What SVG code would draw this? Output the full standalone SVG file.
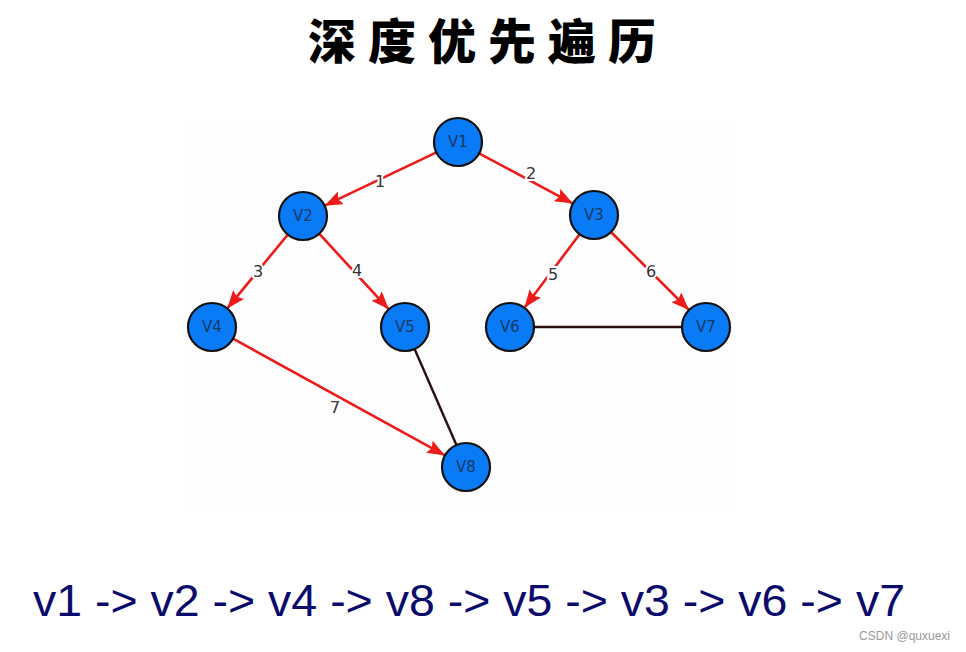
<svg xmlns="http://www.w3.org/2000/svg" width="966" height="652" viewBox="0 0 966 652">
<style>
.node circle{fill:#0a7bf7;stroke:#111;stroke-width:2.2}
.node text{font-family:"DejaVu Sans","Liberation Sans",sans-serif;font-size:15px;fill:#173a63;text-anchor:middle;dominant-baseline:central}
.red{stroke:#ee1b1b;stroke-width:2.6;fill:none;marker-end:url(#ah)}
.blk{stroke:#2a0f0f;stroke-width:2.4;fill:none}
.lbl{font-family:"DejaVu Sans","Liberation Sans",sans-serif;font-size:16px;fill:#333;text-anchor:middle;dominant-baseline:central;stroke:#fdfdfd;stroke-width:4;paint-order:stroke}
</style>
<defs>
<marker id="ah" viewBox="0 0 18 14" refX="18" refY="7" markerWidth="18" markerHeight="14" markerUnits="userSpaceOnUse" orient="auto">
<path d="M0,0 L18,7 L0,14 L3,7 Z" fill="#ee1b1b"/>
</marker>
</defs>
<rect width="966" height="652" fill="#fff"/>
<rect x="183" y="120" width="552" height="392" fill="#fdfdfd"/>
<text x="488" y="59" font-family="'Noto Sans CJK SC','Noto Sans CJK JP',sans-serif" font-weight="900" font-size="48" letter-spacing="12" text-anchor="middle" fill="#000">深度优先遍历</text>
<g id="connectors">
<line class="red" x1="436.4" y1="152.3" x2="324.6" y2="205.7"/>
<line class="red" x1="479.1" y1="153.3" x2="572.9" y2="203.6"/>
<line class="red" x1="287.8" y1="234.6" x2="227.2" y2="308.4"/>
<line class="red" x1="319.2" y1="233.7" x2="388.8" y2="309.3"/>
<line class="red" x1="579.6" y1="234.2" x2="524.4" y2="307.8"/>
<line class="red" x1="611" y1="232" x2="689" y2="310"/>
<line class="red" x1="233" y1="338.6" x2="445" y2="455.4"/>
<line class="blk" x1="414.6" y1="349" x2="456.4" y2="445"/>
<line class="blk" x1="534" y1="327" x2="682" y2="327"/>
<text class="lbl" x="380" y="181">1</text>
<text class="lbl" x="531" y="173">2</text>
<text class="lbl" x="258" y="271">3</text>
<text class="lbl" x="357" y="270">4</text>
<text class="lbl" x="553" y="274">5</text>
<text class="lbl" x="651" y="271">6</text>
<text class="lbl" x="335" y="407">7</text>
</g>
<g id="v1" class="node"><circle cx="458" cy="142" r="24"/><text x="458" y="142">V1</text></g>
<g id="v2" class="node"><circle cx="303" cy="216" r="24"/><text x="303" y="216">V2</text></g>
<g id="v3" class="node"><circle cx="594" cy="215" r="24"/><text x="594" y="215">V3</text></g>
<g id="v4" class="node"><circle cx="212" cy="327" r="24"/><text x="212" y="327">V4</text></g>
<g id="v5" class="node"><circle cx="405" cy="327" r="24"/><text x="405" y="327">V5</text></g>
<g id="v6" class="node"><circle cx="510" cy="327" r="24"/><text x="510" y="327">V6</text></g>
<g id="v7" class="node"><circle cx="706" cy="327" r="24"/><text x="706" y="327">V7</text></g>
<g id="v8" class="node"><circle cx="466" cy="467" r="24"/><text x="466" y="467">V8</text></g>
<text x="33" y="616" font-family="'Liberation Sans',sans-serif" font-size="44" fill="#0b0b6b" textLength="872" lengthAdjust="spacingAndGlyphs">v1 -&gt; v2 -&gt; v4 -&gt; v8 -&gt; v5 -&gt; v3 -&gt; v6 -&gt; v7</text>
<text x="950" y="640" font-family="'Liberation Sans',sans-serif" font-size="12" fill="#999" text-anchor="end">CSDN @quxuexi</text>
</svg>
